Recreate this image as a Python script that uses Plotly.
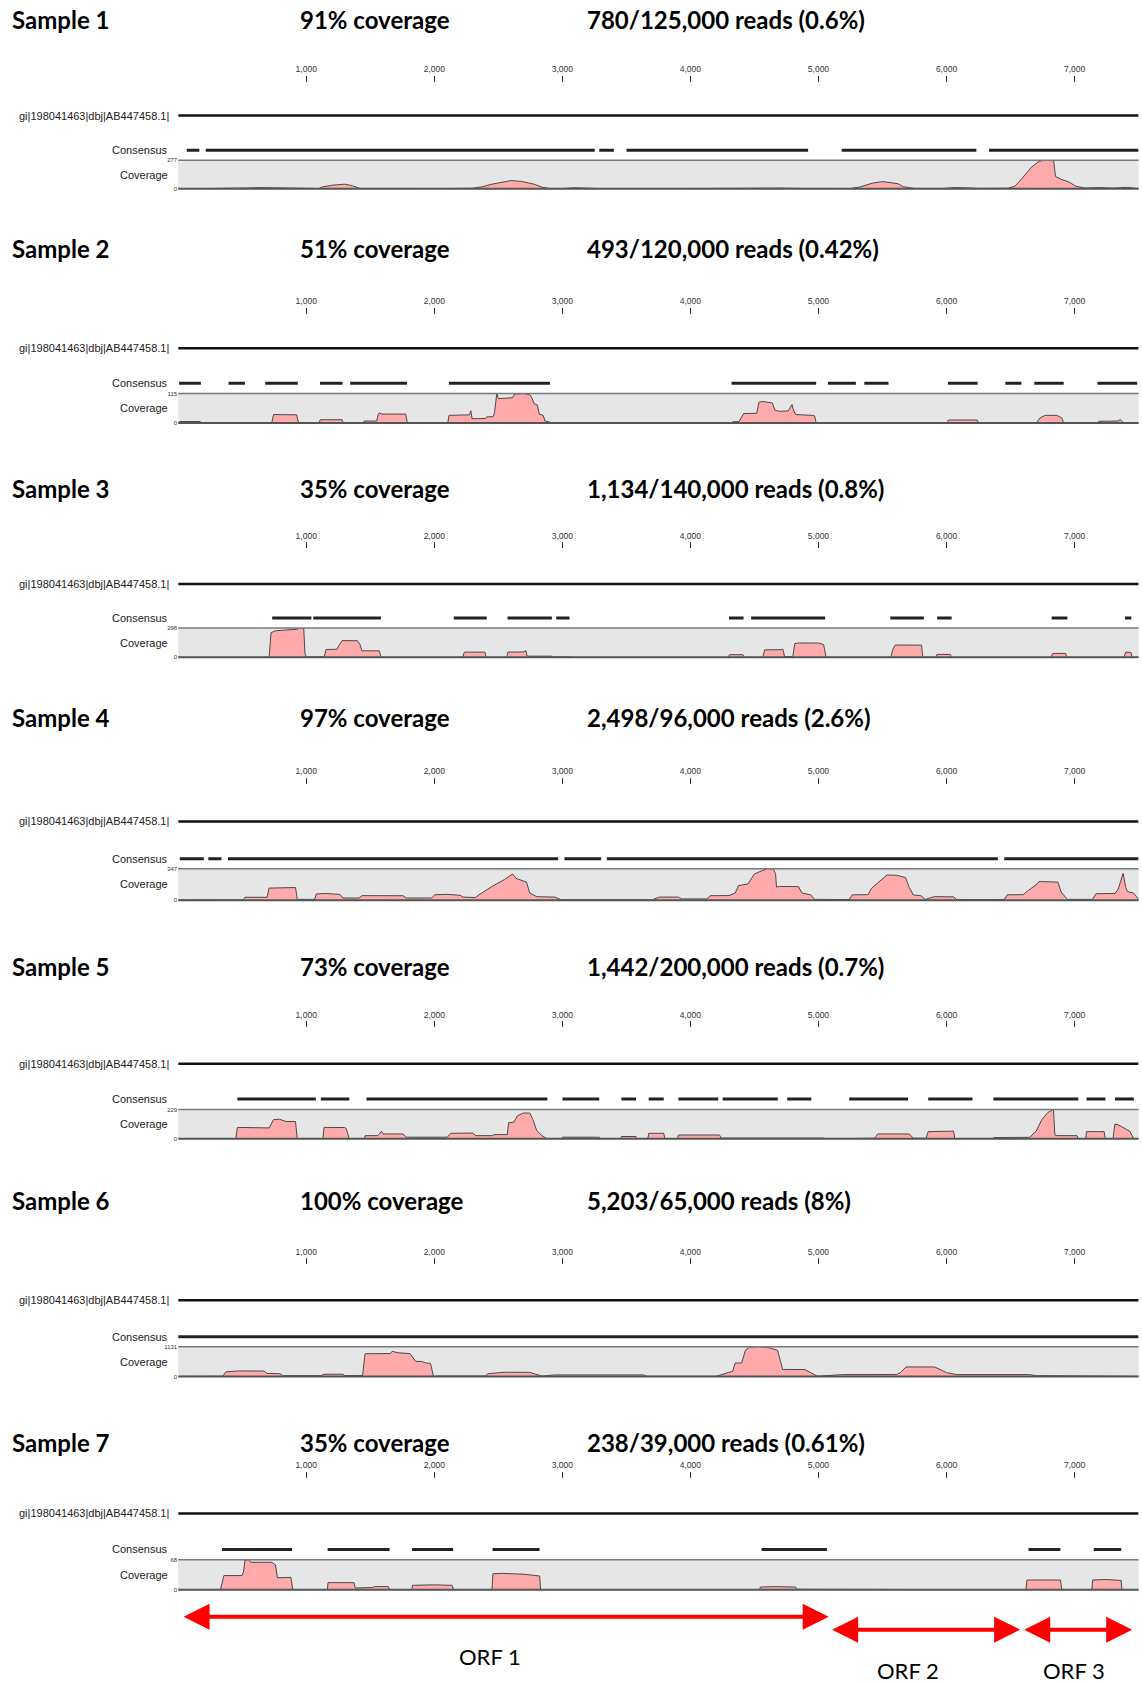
import plotly.graph_objects as go

W, H = 1142, 1684

# ---------------- data ----------------
GENOME_LEN = 7500
TICK_VALS = [1000, 2000, 3000, 4000, 5000, 6000, 7000]
TICK_TEXT = ["1,000", "2,000", "3,000", "4,000", "5,000", "6,000", "7,000"]
REF_NAME = "gi|198041463|dbj|AB447458.1|"

SAMPLES = ["Sample 1", "Sample 2", "Sample 3", "Sample 4", "Sample 5", "Sample 6", "Sample 7"]
COVERAGE_TEXT = ["91% coverage", "51% coverage", "35% coverage", "97% coverage",
                 "73% coverage", "100% coverage", "35% coverage"]
READS_TEXT = ["780/125,000 reads (0.6%)", "493/120,000 reads (0.42%)",
              "1,134/140,000 reads (0.8%)", "2,498/96,000 reads (2.6%)",
              "1,442/200,000 reads (0.7%)", "5,203/65,000 reads (8%)",
              "238/39,000 reads (0.61%)"]
COV_MAX = [277, 115, 298, 347, 229, 1131, 68]

cov1_x = [0, 450, 520, 650, 800, 916, 1000, 1100, 1114, 1200, 1300, 1361, 1420, 1600, 1900, 2100, 2300, 2374,
          2450, 2530, 2600, 2680, 2780, 2843, 2900, 3000, 3090, 3170, 3239, 3300, 3700, 4177, 4300, 4500, 4700,
          4869, 5000, 5250, 5330, 5420, 5503, 5560, 5620, 5663, 5750, 5981, 6060, 6154, 6250, 6480, 6533, 6590,
          6663, 6721, 6760, 6837, 6851, 6900, 6950, 7011, 7080, 7192, 7300, 7414, 7500]
cov1_y = [0, 2, 8, 12, 10, 6, 2, 3, 15, 35, 45, 30, 4, 2, 5, 3, 6, 20,
          45, 65, 80, 72, 45, 15, 4, 3, 10, 8, 4, 2, 2, 6, 8, 5, 7,
          4, 2, 3, 20, 55, 70, 60, 50, 20, 4, 4, 12, 10, 4, 6, 25, 100,
          210, 265, 277, 272, 120, 90, 70, 25, 8, 12, 8, 14, 3]

cov2_x = [0, 13, 170, 185, 395, 400, 515, 521, 730, 745, 925, 940, 1100, 1110, 1280, 1290, 1343, 1448, 1452,
          1550, 1560, 1570, 1590, 1776, 1790, 2105, 2115, 2275, 2285, 2295, 2400, 2410, 2460, 2470, 2488, 2500,
          2610, 2628, 2700, 2745, 2760, 2780, 2805, 2820, 2850, 2865, 2895, 2912,
          4321, 4330, 4379, 4400, 4416, 4518, 4535, 4560, 4610, 4640, 4660, 4690, 4764, 4780, 4793, 4805, 4822,
          4953, 4970, 4982, 5011, 5474, 5480, 6005, 6015, 6240, 6250, 6700, 6730, 6770, 6860, 6900, 6915, 7180,
          7190, 7340, 7358, 7370, 7390, 7500]
cov2_y = [0, 6, 6, 0, 0, 2, 2, 0, 0, 33, 32, 0, 0, 13, 13, 0, 1, 2, 8,
          8, 30, 40, 35, 35, 0, 0, 30, 32, 48, 17, 18, 24, 25, 40, 115, 95,
          98, 113, 114, 110, 100, 75, 70, 35, 30, 8, 5, 0,
          0, 5, 6, 25, 37, 38, 80, 84, 82, 78, 50, 46, 47, 60, 72, 50, 33,
          30, 28, 0, 2, 2, 0, 0, 12, 12, 0, 0, 20, 30, 30, 20, 0, 0,
          7, 8, 14, 6, 0, 0]

cov3_x = [0, 710, 725, 760, 930, 945, 980, 990, 1000, 1140, 1155, 1240, 1255, 1280, 1400, 1420, 1435, 1570, 1585,
          2220, 2235, 2395, 2405, 2565, 2575, 2700, 2715, 2725, 2915, 2925, 3055, 3060, 4295, 4305, 4410, 4420,
          4565, 4580, 4715, 4722, 4735, 4800, 4815, 4850, 5000, 5040, 5060, 5565, 5580, 5600, 5805, 5815, 5918,
          5925, 6030, 6040, 6815, 6830, 6930, 6940, 7385, 7400, 7440, 7450, 7500]
cov3_y = [0, 0, 250, 270, 285, 298, 298, 40, 5, 5, 80, 82, 120, 170, 168, 130, 66, 66, 0,
          0, 53, 53, 0, 0, 53, 55, 70, 12, 12, 5, 5, 0, 0, 27, 27, 0,
          0, 76, 78, 85, 8, 8, 140, 146, 145, 130, 0, 0, 80, 125, 124, 0, 0,
          30, 30, 0, 0, 40, 40, 0, 0, 53, 50, 0, 0]

cov4_x = [0, 100, 400, 510, 521, 694, 709, 900, 916, 930, 1065, 1079, 1150, 1262, 1287, 1411, 1435, 1756, 1781,
          1979, 2003, 2100, 2201, 2225, 2320, 2349, 2448, 2550, 2611, 2640, 2720, 2745, 2800, 2942, 2992, 3700,
          3758, 3906, 3930, 4130, 4153, 4301, 4350, 4375, 4449, 4500, 4597, 4647, 4665, 4672, 4696, 4845, 4870,
          4940, 4968, 5240, 5264, 5388, 5413, 5470, 5536, 5610, 5680, 5709, 5740, 5800, 5833, 5907, 6055, 6080,
          6450, 6475, 6599, 6640, 6700, 6722, 6870, 6895, 6944, 7140, 7167, 7315, 7340, 7379, 7400, 7414, 7460,
          7500]
cov4_y = [3, 5, 3, 5, 33, 33, 134, 134, 140, 10, 10, 70, 75, 65, 25, 25, 51, 50, 25,
          25, 61, 65, 55, 35, 30, 60, 150, 230, 289, 240, 200, 80, 40, 35, 5, 5,
          35, 35, 15, 15, 50, 52, 80, 160, 180, 290, 347, 345, 290, 145, 152, 150, 80,
          60, 10, 8, 60, 62, 130, 200, 278, 275, 250, 140, 60, 50, 10, 40, 38, 8,
          8, 60, 62, 110, 170, 206, 200, 90, 10, 10, 72, 75, 120, 296, 140, 95, 80,
          10]

cov5_x = [0, 450, 462, 694, 710, 745, 790, 842, 916, 930, 1130, 1139, 1300, 1312, 1336, 1455, 1460, 1559, 1588,
          1600, 1756, 1781, 2102, 2127, 2300, 2325, 2448, 2473, 2570, 2580, 2620, 2650, 2695, 2745, 2770, 2800,
          2840, 2883, 2992, 3000, 3288, 3295, 3455, 3461, 3575, 3580, 3668, 3674, 3792, 3800, 3900, 3906, 4227,
          4240, 5040, 5060, 5240, 5260, 5440, 5462, 5709, 5740, 5840, 5857, 6055, 6065, 6360, 6370, 6650, 6700,
          6745, 6790, 6821, 6835, 6846, 6870, 7019, 7030, 7088, 7093, 7231, 7240, 7300, 7315, 7340, 7390, 7430,
          7463, 7500]
cov5_y = [0, 0, 89, 90, 85, 150, 153, 135, 135, 0, 0, 89, 88, 80, 0, 0, 25, 25, 59,
          38, 38, 13, 13, 43, 45, 25, 25, 33, 33, 125, 130, 180, 201, 201, 150, 64,
          25, 0, 0, 13, 13, 0, 0, 18, 18, 0, 0, 43, 43, 0, 0, 30, 30,
          6, 6, 0, 0, 4, 5, 38, 38, 5, 5, 56, 60, 0, 0, 10, 12, 60,
          150, 204, 222, 229, 30, 25, 25, 0, 0, 56, 56, 0, 0, 115, 110, 80, 60,
          0, 0]

cov6_x = [0, 27, 348, 373, 472, 669, 694, 793, 818, 1114, 1139, 1287, 1300, 1440, 1455, 1460, 1658, 1670, 1720,
          1810, 1855, 1905, 1930, 1970, 1994, 2028, 2399, 2420, 2547, 2745, 2790, 2843, 2942, 3634, 3660, 4200,
          4330, 4350, 4400, 4430, 4460, 4523, 4600, 4680, 4721, 4746, 4894, 4940, 4992, 5190, 5610, 5640, 5684,
          5907, 5960, 6000, 6080, 6648, 6697, 6944, 6970, 7500]
cov6_y = [0, 10, 15, 180, 214, 210, 120, 110, 35, 35, 88, 90, 40, 40, 700, 867, 870, 955, 900,
          870, 577, 570, 520, 500, 0, 20, 20, 110, 163, 160, 90, 20, 63, 63, 10, 10,
          200, 515, 515, 1000, 1108, 1131, 1108, 1000, 264, 270, 265, 150, 15, 75, 80, 150, 364,
          364, 250, 150, 75, 75, 35, 35, 15, 10]

cov7_x = [0, 330, 357, 497, 510, 521, 551, 566, 730, 760, 775, 880, 895, 1165, 1170, 1373, 1382, 1520, 1530,
          1642, 1650, 1825, 1830, 2000, 2140, 2150, 2450, 2458, 2530, 2700, 2823, 2830, 4540, 4547, 4650, 4822,
          4830, 5069, 5075, 6620, 6628, 6890, 6900, 7135, 7141, 7250, 7364, 7370, 7500]
cov7_y = [0, 0, 32, 32, 40, 67, 68, 62, 62, 56, 27, 28, 0, 0, 16, 16, 4, 5, 7,
          7, 0, 0, 10, 11, 10, 0, 0, 36, 37, 35, 31, 0, 0, 6, 7, 6,
          1, 1, 0, 0, 22, 22, 0, 0, 22, 23, 21, 0, 0]

cons1_start = [67, 215, 3288, 3501, 5181, 6332]
cons1_end = [165, 3253, 3402, 4919, 6233, 7500]
cons2_start = [7, 393, 680, 1107, 1343, 2114, 4321, 5074, 5358, 6011, 6460, 6686, 7179]
cons2_end = [177, 521, 934, 1283, 1786, 2903, 4982, 5292, 5547, 6243, 6585, 6915, 7489]
cons3_start = [734, 1055, 2152, 2572, 2952, 4301, 4474, 5561, 5927, 6821, 7394]
cons3_end = [1040, 1583, 2409, 2918, 3056, 4415, 5052, 5823, 6040, 6944, 7443]
cons4_start = [12, 235, 388, 3016, 3347, 6451]
cons4_end = [200, 338, 2967, 3303, 6401, 7500]
cons5_start = [462, 1114, 1470, 3001, 3461, 3674, 3906, 4252, 4756, 5240, 5857, 6366, 7093, 7315]
cons5_end = [1075, 1336, 2883, 3288, 3575, 3792, 4217, 4682, 4944, 5699, 6203, 7029, 7241, 7463]
cons6_start = [0]
cons6_end = [7500]
cons7_start = [342, 1167, 1827, 2455, 4556, 6640, 7150]
cons7_end = [889, 1651, 2147, 2822, 5066, 6889, 7364]

ORF_NAMES = ["ORF 1", "ORF 2", "ORF 3"]
ORF_START = [30, 5095, 6595]
ORF_END = [5080, 6575, 7450]

COV_X = [cov1_x, cov2_x, cov3_x, cov4_x, cov5_x, cov6_x, cov7_x]
COV_Y = [cov1_y, cov2_y, cov3_y, cov4_y, cov5_y, cov6_y, cov7_y]
CONS_START = [cons1_start, cons2_start, cons3_start, cons4_start, cons5_start, cons6_start, cons7_start]
CONS_END = [cons1_end, cons2_end, cons3_end, cons4_end, cons5_end, cons6_end, cons7_end]

# ---------------- layout geometry (pixels) ----------------
X0_PX, X1_PX = 178.2, 1138.6
PANELS = [  # header, tick axis, ref line, consensus, box top, box bottom
    dict(hdr=16.5, tick=79, ref=113, cons=147.8, top=157.8, bot=186.5),
    dict(hdr=246.5, tick=312, ref=346.5, cons=381.6, top=391.8, bot=421.6),
    dict(hdr=487, tick=547, ref=583, cons=617.2, top=627.2, bot=656.7),
    dict(hdr=717, tick=783.5, ref=821.4, cons=858.8, top=868.8, bot=900.5),
    dict(hdr=967, tick=1028, ref=1064.5, cons=1100, top=1110.4, bot=1139.9),
    dict(hdr=1202, tick=1265.5, ref=1301.8, cons=1338.4, top=1348.5, bot=1378.5),
    dict(hdr=1444.5, tick=1480, ref=1515.8, cons=1552, top=1562.2, bot=1592.4),
]
ORF_ARROW_Y = [1619.5, 1632.5, 1632.5]
ORF_LABEL_Y = [1659, 1673, 1673]
ORF_LABEL_SHIFT = [-15, -17, -3]


def px(x):
    return x / W


def py(y):
    return 1 - y / H


HEADER_FONT = dict(family="Lato", size=24, color="#000000", weight=700)
SMALL_FONT = dict(family="Liberation Sans", size=11, color="#222222")

fig = go.Figure()
layout = dict(width=W, height=H, margin=dict(l=0, r=0, t=0, b=0), showlegend=False,
              paper_bgcolor="white", plot_bgcolor="rgba(0,0,0,0)")
annotations = []
shapes = []

for i, p in enumerate(PANELS):
    n = i + 1
    xid = "x" if n == 1 else f"x{n}"
    xkey = "xaxis" if n == 1 else f"xaxis{n}"
    ytid = "y" if n == 1 else f"y{n}"
    ytkey = "yaxis" if n == 1 else f"yaxis{n}"
    ycid = f"y{n + 7}"
    yckey = f"yaxis{n + 7}"

    layout[xkey] = dict(domain=[px(X0_PX), px(X1_PX)], range=[0, GENOME_LEN], anchor="free",
                        position=py(p["tick"]), side="top", showline=False, showgrid=False,
                        zeroline=False, ticks="outside", ticklen=6, tickwidth=1, tickcolor="#333333",
                        tickvals=TICK_VALS, ticktext=TICK_TEXT,
                        tickfont=dict(family="Liberation Sans", size=8.5, color="#333333"))
    g = p["cons"] - p["ref"]
    layout[ytkey] = dict(domain=[py(p["cons"] + g / 2), py(p["ref"] - g / 2)], range=[-0.5, 1.5],
                         anchor=xid, visible=False, fixedrange=True)
    layout[yckey] = dict(domain=[py(p["bot"]), py(p["top"])], range=[0, COV_MAX[i]], anchor=xid,
                         showgrid=False, zeroline=False, showline=False, ticks="",
                         tickvals=[0, COV_MAX[i]], ticktext=["0", str(COV_MAX[i])],
                         tickfont=dict(family="Liberation Sans", size=6, color="#333333"))

    # gray coverage background + borders
    shapes.append(dict(type="rect", xref=f"{xid} domain", yref=f"{ycid} domain", x0=0, x1=1, y0=0, y1=1,
                       fillcolor="#e6e6e6", line=dict(width=0), layer="below"))
    shapes.append(dict(type="line", xref=f"{xid} domain", yref=f"{ycid} domain", x0=0, x1=1, y0=1, y1=1,
                       line=dict(color="#7a7a7a", width=1.5), layer="above"))
    shapes.append(dict(type="line", xref=f"{xid} domain", yref=f"{ycid} domain", x0=0, x1=1, y0=0, y1=0,
                       line=dict(color="#555555", width=2), layer="above"))

    # reference line
    fig.add_trace(go.Scatter(x=[0, GENOME_LEN], y=[1, 1], mode="lines", xaxis=xid, yaxis=ytid,
                             line=dict(color="#111111", width=2.5), hoverinfo="skip"))
    # consensus segments
    cx, cy = [], []
    for s, e in zip(CONS_START[i], CONS_END[i]):
        cx += [s, e, None]
        cy += [0, 0, None]
    fig.add_trace(go.Scatter(x=cx, y=cy, mode="lines", xaxis=xid, yaxis=ytid,
                             line=dict(color="#222222", width=3), hoverinfo="skip", connectgaps=False))
    # coverage area
    fig.add_trace(go.Scatter(x=COV_X[i], y=COV_Y[i], mode="lines", xaxis=xid, yaxis=ycid,
                             fill="tozeroy", fillcolor="#ffaaaa",
                             line=dict(color="#4a4a4a", width=1), hoverinfo="skip"))

    # text labels
    annotations.append(dict(text=SAMPLES[i], x=px(9.6), y=py(p["hdr"]), xref="paper", yref="paper",
                            xanchor="left", yanchor="middle", showarrow=False, font=HEADER_FONT))
    annotations.append(dict(text=COVERAGE_TEXT[i], x=px(297.7), y=py(p["hdr"]), xref="paper", yref="paper",
                            xanchor="left", yanchor="middle", showarrow=False, font=HEADER_FONT))
    annotations.append(dict(text=READS_TEXT[i], x=px(585), y=py(p["hdr"]), xref="paper", yref="paper",
                            xanchor="left", yanchor="middle", showarrow=False, font=HEADER_FONT))
    annotations.append(dict(text=REF_NAME, x=px(170.5), y=py(p["ref"]), xref="paper", yref="paper",
                            xanchor="right", yanchor="middle", showarrow=False, font=SMALL_FONT))
    annotations.append(dict(text="Consensus", x=px(169.5), y=py(p["cons"]), xref="paper", yref="paper",
                            xanchor="right", yanchor="middle", showarrow=False, font=SMALL_FONT))
    annotations.append(dict(text="Coverage", x=px(169.5), y=py((p["top"] + p["bot"]) / 2), xref="paper",
                            yref="paper", xanchor="right", yanchor="middle", showarrow=False, font=SMALL_FONT))

# ORF arrows (drawn on the last panel's genome axis)
for k in range(len(ORF_NAMES)):
    annotations.append(dict(x=ORF_END[k], y=py(ORF_ARROW_Y[k]), xref="x7", yref="paper",
                            ax=ORF_START[k], ay=0, axref="x7", ayref="pixel", text="",
                            showarrow=True, arrowside="end+start", arrowhead=2, startarrowhead=2,
                            arrowsize=1.3, startarrowsize=1.3, arrowwidth=4, arrowcolor="#ff0000",
                            standoff=0, startstandoff=0))
    annotations.append(dict(text=ORF_NAMES[k], x=(ORF_START[k] + ORF_END[k]) / 2, xshift=ORF_LABEL_SHIFT[k],
                            y=py(ORF_LABEL_Y[k]), xref="x7", yref="paper", xanchor="center",
                            yanchor="middle", showarrow=False,
                            font=dict(family="Lato", size=22, color="#000000")))

layout["annotations"] = annotations
layout["shapes"] = shapes
fig.update_layout(**layout)
fig.write_html("out.html")
